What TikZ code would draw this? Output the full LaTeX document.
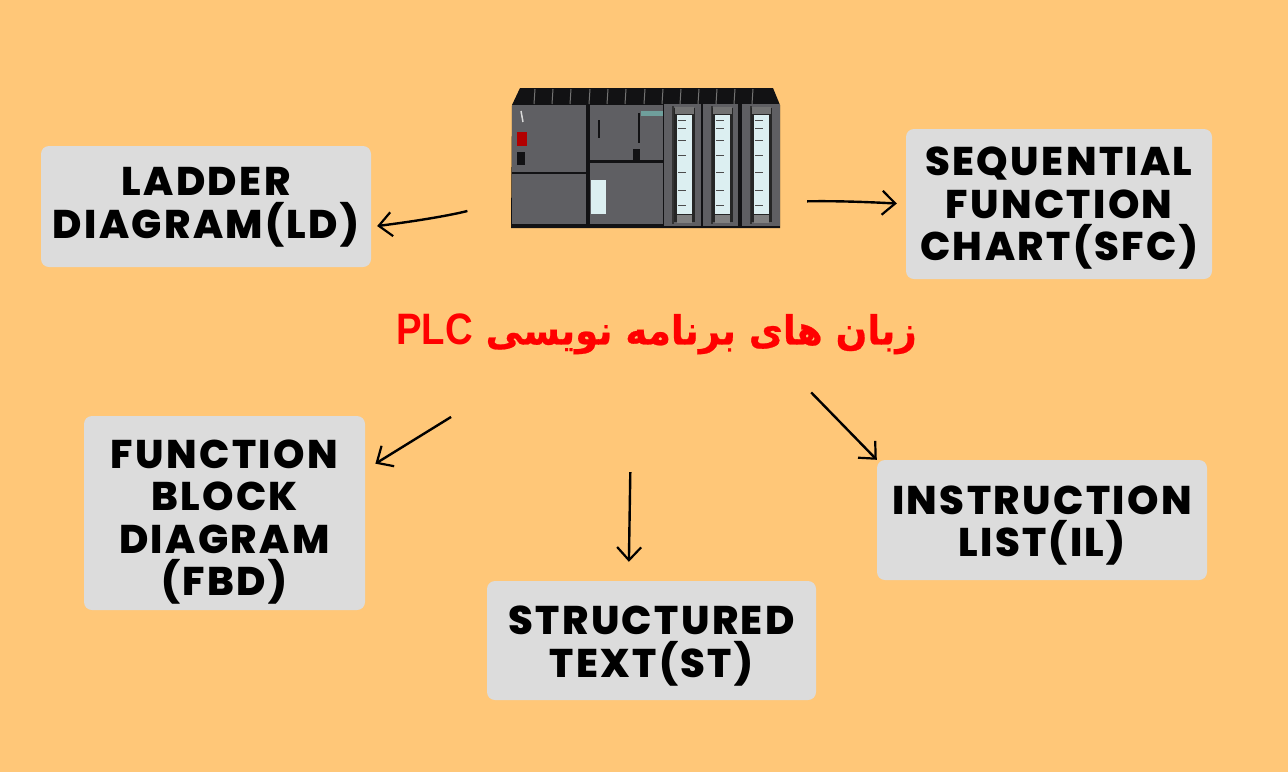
\documentclass[tikz,border=0pt]{standalone}
\usepackage{fontspec}
\TeXXeTstate=1
\newfontfamily\boxfont[LetterSpace=6,BoldFont={Poppins ExtraBold}]{Poppins}
\newfontfamily\arabicfont[Script=Arabic,FakeStretch=0.93,FakeBold=0.6]{DejaVu Sans}
\newfontfamily\latinfont[FakeStretch=0.87]{Liberation Sans}
\definecolor{bgorange}{HTML}{FFC778}
\definecolor{boxgrey}{HTML}{DCDCDC}
\definecolor{plcgrey}{HTML}{5F5F63}
\definecolor{plcdark}{HTML}{121214}
\definecolor{plclight}{HTML}{DCEFF1}
\definecolor{plcteal}{HTML}{6F9F9C}
\newcommand{\toplift}[1]{\rule{0pt}{#1}}
\tikzset{
  langbox/.style={fill=boxgrey, rounded corners=8pt, inner sep=0pt, align=center,
    font=\boxfont\bfseries\fontsize{40}{42.3}\selectfont},
  flowarrow/.style={draw=black, line width=2.4pt, -{Straight Barb[length=13pt,width=24pt,line width=2.2pt]}},
}
\usetikzlibrary{arrows.meta}
\begin{document}
\begin{tikzpicture}[x=1pt, y=-1pt]
  \fill[bgorange] (0,0) rectangle (1288,772);
  \useasboundingbox (0,0) rectangle (1288,772);

  % the PLC rack
  \fill[plcdark] (512,105) -- (520,88) -- (773,88) -- (780,105) -- (780,228) -- (511,228) -- cycle;
  \fill[plcgrey] (512,105) rectangle (586,172);
  \fill[plcgrey] (512,174) rectangle (586,224);
  \fill[plcgrey] (590,105) rectangle (663,160);
  \fill[plcgrey] (590,163) rectangle (663,224);
  \fill[red!70!black] (517,132) rectangle (527,146);
  \fill[plcdark] (517,152) rectangle (525,165);
  \draw[black!15, line width=1.5pt] (521,111) -- (523,122);
  \fill[plclight] (591,180) rectangle (606,214);
  \fill[plcteal] (641,111) rectangle (663,116);
  \draw[plcdark, line width=2pt] (639,113) -- (639,143);
  \draw[plcdark, line width=1.5pt] (599,120) -- (599,138);
  \fill[plcdark] (633,149) rectangle (640,160);
  \foreach \slotx in {535,553,571,590,608,626,645,663,681,699,717,735,753} {
    \draw[black!55, line width=1pt] (\slotx,89) -- (\slotx-1,104);
  }
  \foreach \modx/\winx/\modw in {664/677/37, 703/715/35, 742/754/38} {
    \fill[plcgrey] (\modx,104) rectangle (\modx+\modw,226);
    \draw[black!80, line width=1.5pt] (\modx+9,106) -- (\modx+9,224);
    \fill[black!85] (\winx-3,108) rectangle (\winx+18,222);
    \fill[black!55] (\winx-2,107) rectangle (\winx+17,114);
    \fill[plclight] (\winx,115) rectangle (\winx+15,214);
    \fill[black!50] (\winx,215) rectangle (\winx+15,223);
    \foreach \ticky in {120,128,140,155,172,190,205} {
      \draw[black!70, line width=1pt] (\winx+1,\ticky) -- (\winx+9,\ticky);
    }
  }
  \node (plc) at (645.5,158) [minimum width=269pt, minimum height=140pt, inner sep=0pt] {};

  \node (title) at (656.5,334) [minimum width=521pt, minimum height=52pt, inner sep=0pt,
    text=red, font=\bfseries\fontsize{40}{44}\selectfont]
    {\arabicfont\beginR زبان های برنامه نویسی \beginL{\latinfont\fontsize{44}{44}\selectfont PLC}\endL\endR};

  \node[langbox, minimum width=330pt, minimum height=121pt] (ld) at (206,206.5) {\toplift{30pt}LADDER\\DIAGRAM(LD)};
  \node[langbox, minimum width=306pt, minimum height=150pt] (sfc) at (1059,204) {\toplift{37pt}SEQUENTIAL\\FUNCTION\\CHART(SFC)};
  \node[langbox, minimum width=281pt, minimum height=194pt] (fbd) at (224.5,513) {\toplift{47pt}FUNCTION\\BLOCK\\DIAGRAM\\(FBD)};
  \node[langbox, minimum width=329pt, minimum height=119pt] (st) at (651.5,640.5) {\toplift{40pt}STRUCTURED\\TEXT(ST)};
  \node[langbox, minimum width=330pt, minimum height=120pt] (il) at (1042,520) {\toplift{40pt}INSTRUCTION\\LIST(IL)};

  \draw[flowarrow, shorten <=45pt, shorten >=6pt] (plc.197.7) to[bend left=4] (ld.-7);
  \draw[flowarrow, shorten <=27pt, shorten >=9pt] (plc.-18.3) to[bend left=2] (sfc.west);
  \draw[flowarrow, shorten <=108pt, shorten >=12pt] (title.193) -- (fbd.17.4);
  \draw[flowarrow, shorten <=112pt, shorten >=19pt] (title.227.9) -- (st.north -| 628.6,0);
  \draw[flowarrow, shorten <=45pt] (title.-12.1) -- (il.north west);
\end{tikzpicture}
\end{document}
